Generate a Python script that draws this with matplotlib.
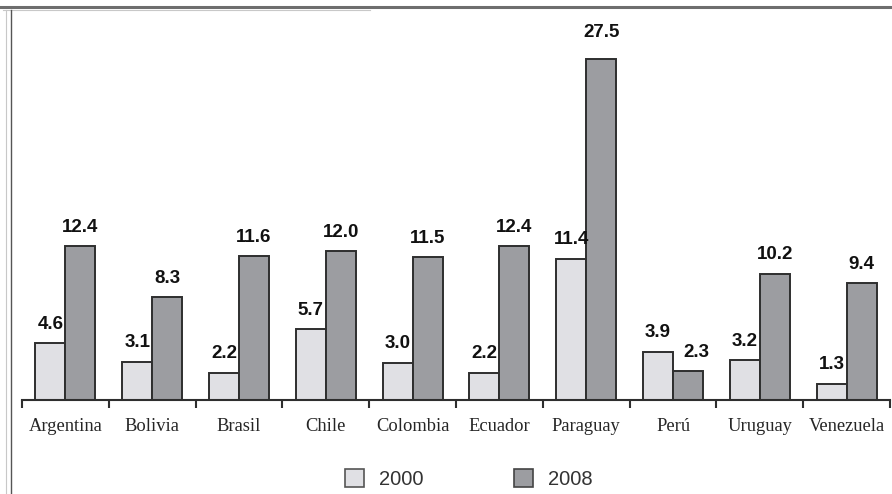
import matplotlib.pyplot as plt
import numpy as np
from matplotlib.lines import Line2D
from matplotlib.patches import Patch

# ---- data ----
countries = ["Argentina", "Bolivia", "Brasil", "Chile", "Colombia",
             "Ecuador", "Paraguay", "Perú", "Uruguay", "Venezuela"]
v2000 = [4.6, 3.1, 2.2, 5.7, 3.0, 2.2, 11.4, 3.9, 3.2, 1.3]
v2008 = [12.4, 8.3, 11.6, 12.0, 11.5, 12.4, 27.5, 2.3, 10.2, 9.4]

c2000 = "#e0e0e4"
c2008 = "#9c9da1"
edge = "#2e2e2e"

W, H = 892, 494
fig = plt.figure(figsize=(W / 100, H / 100), dpi=100)
fig.patch.set_facecolor("white")

ax = fig.add_axes([22 / W, 94 / H, 868 / W, 372 / H])

x = np.arange(len(countries)) + 0.5
bw = 0.345

ax.bar(x - bw / 2, v2000, bw, color=c2000, edgecolor=edge, linewidth=1.4)
ax.bar(x + bw / 2, v2008, bw, color=c2008, edgecolor=edge, linewidth=1.4)

lab_font = dict(family="Liberation Sans", weight="bold", size=13.5, color="#111111")
for xi, v in zip(x - bw / 2, v2000):
    ax.annotate(f"{v:.1f}", (xi, v), xytext=(0, 7.5), textcoords="offset points",
                ha="center", va="bottom", **lab_font)
for xi, v in zip(x + bw / 2, v2008):
    dx = 6 if v < 3 else 0
    dy = 13 if v > 20 else 7.5
    ax.annotate(f"{v:.1f}", (xi, v), xytext=(dx, dy), textcoords="offset points",
                ha="center", va="bottom", **lab_font)

ax.set_xlim(0, len(countries))
ax.set_ylim(0, 30)

# boundary ticks between groups, labels at group centres
ax.set_xticks(np.arange(len(countries) + 1))
ax.set_xticklabels([])
ax.set_xticks(x, minor=True)
ax.set_xticklabels(countries, minor=True, family="Liberation Serif",
                   size=13.3, color="#262626")
ax.tick_params(axis="x", which="major", direction="out", length=6,
               width=1.5, color=edge)
ax.tick_params(axis="x", which="minor", length=0, pad=13)
ax.set_yticks([])

for s in ["top", "right", "left"]:
    ax.spines[s].set_visible(False)
ax.spines["bottom"].set_linewidth(1.5)
ax.spines["bottom"].set_color(edge)

# legend
handles = [Patch(facecolor=c2000, edgecolor="#555555", linewidth=1.2, label="2000"),
           Patch(facecolor=c2008, edgecolor="#444444", linewidth=1.2, label="2008")]
fig.legend(handles=handles, loc="center", bbox_to_anchor=(469 / W, 15 / H),
           ncol=2, frameon=False, handlelength=0.95, handleheight=0.95,
           handletextpad=0.75, columnspacing=4.5,
           prop=dict(family="Liberation Sans", size=14.5), labelcolor="#333333")

# frame lines
fig.add_artist(Line2D([0, 1], [1 - 7.5 / H] * 2, transform=fig.transFigure,
                      color="#6e6e6e", lw=2.2))
fig.add_artist(Line2D([3 / W, 370 / W], [1 - 10 / H] * 2, transform=fig.transFigure,
                      color="#c8c8c8", lw=0.8))
fig.add_artist(Line2D([10.5 / W] * 2, [0, 1 - 10 / H], transform=fig.transFigure,
                      color="#555555", lw=1.0))
fig.add_artist(Line2D([5.5 / W] * 2, [0, 1 - 10 / H], transform=fig.transFigure,
                      color="#c8c8c8", lw=0.8))

fig.savefig("out.png", dpi=100)
